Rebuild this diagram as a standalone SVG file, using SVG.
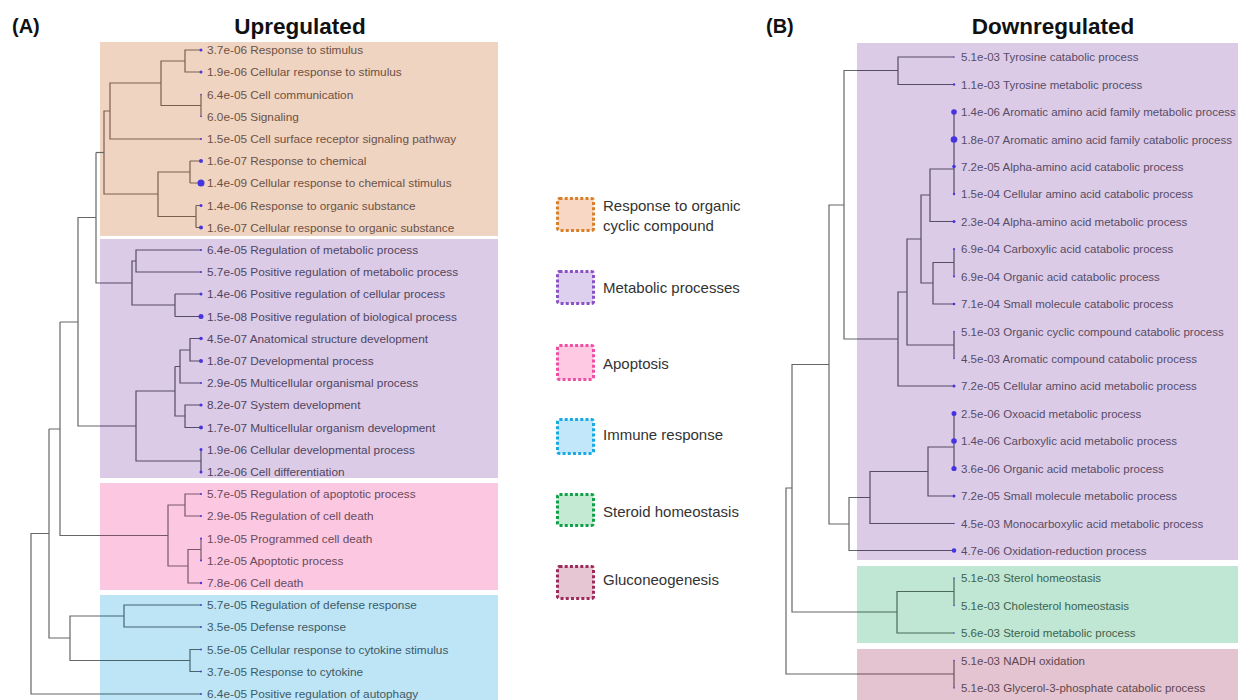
<svg xmlns="http://www.w3.org/2000/svg" width="1241" height="700" viewBox="0 0 1241 700">
<style>
text{font-family:"Liberation Sans",Arial,sans-serif}
.ttl{font-size:22.5px;font-weight:bold;fill:#111;text-anchor:middle}
.pn{font-size:20px;font-weight:bold;fill:#111}
.lL{font-size:11.8px}
.lR{font-size:11.5px}
.lg{font-size:15px;fill:#333}
.o{fill:#6b5244}.p{fill:#4f4562}.k{fill:#6a4a5c}.b{fill:#3e5a66}.g{fill:#3e6150}.m{fill:#5e4852}.q{fill:#574c68}
.cn path{fill:none;stroke-width:1.2}
.gx{stroke:#666}.go{stroke:#7a5e50}.gp{stroke:#574c6a}.gk{stroke:#7a566a}.gb{stroke:#46656f}.gg{stroke:#4a6a5a}.gm{stroke:#6a505c}
.d{fill:#4634e0}
.lgb{stroke-width:3;stroke-dasharray:3 2.2}
</style>

<!-- background boxes -->
<rect x="100" y="42" width="398" height="194" fill="#f0d4c2"/>
<rect x="100" y="239" width="398" height="239" fill="#dccbe6"/>
<rect x="100" y="483" width="398" height="107" fill="#fcc8e1"/>
<rect x="100" y="595" width="398" height="105" fill="#bde5f6"/>
<rect x="857" y="43" width="381" height="517" fill="#dccbe6"/>
<rect x="857" y="566" width="381" height="77" fill="#bfe7d3"/>
<rect x="857" y="649" width="381" height="51" fill="#e4c4d1"/>

<!-- titles -->
<text class="pn" x="12" y="33">(A)</text>
<text class="ttl" x="300" y="34">Upregulated</text>
<text class="pn" x="766" y="33">(B)</text>
<text class="ttl" x="1053" y="34">Downregulated</text>

<!-- connectors -->
<g id="connectors" class="cn">
  <!-- left orange -->
  <path class="go" d="M201 50H185V72H201M201 94.5V116.5M185 61H161V105.5H201M161 83H110V139H201M190 161V183M201 161H190M201 183H190M196 205.5V227.5M201 205.5H196M201 227.5H196M190 172H158V216.5H196M158 194H104V111H110"/>
  <path class="gx" d="M104 152.5H96"/>
  <!-- left purple -->
  <path class="gp" d="M201 250H136V272H201M136 261H132V305H175M175 294V316.5M201 294H175M201 316.5H175M132 283H100M201 338.5H190V361H201M190 350H180V383H201M180 366.5H175M201 405H185V427.5H201M185 416H175V366.5M175 391H136V461H201M201 449.5V472M136 426H100"/>
  <path class="gx" d="M100 283H96V152.5M100 426H78V217.5H96M78 322H60"/>
  <!-- left pink -->
  <path class="gk" d="M201 494H185V516H201M185 505H168V566H188M201 538.5V560.5M201 549.5H188V583H201M168 535.5H100"/>
  <path class="gx" d="M100 535.5H60V322M60 429H49"/>
  <!-- left blue -->
  <path class="gb" d="M201 605H124V627H201M124 616H100M201 649.5H190V671.5H201M190 660.5H100M201 694H100"/>
  <path class="gx" d="M100 616H70V660.5H100M70 638H49V429M49 533.5H31V694H100"/>
  <!-- right purple -->
  <path class="gp" d="M954 57H898V84.5H954M898 70.5H857M954 112V194M954 169H930V221.5H954M930 195H921V283H933M954 249V276.5M954 262.5H933V304H954M921 239H907V345H954M954 331.5V358.5M907 292H898V386H954M898 339H857M954 413.5V468.5M954 447H928V496H954M928 471.5H870V523.5H954M870 497.5H857M954 550.5H857"/>
  <path class="gx" d="M857 70.5H844V339H857M844 205H829V524H849V497.5H857M849 524V550.5H857M829 364.5H792V612H857M792 488H786V674H857"/>
  <!-- right green -->
  <path class="gg" d="M954 578V605.5M954 591.5H897V633H954M897 612H857"/>
  <!-- right maroon -->
  <path class="gm" d="M954 660.5V688M954 674H857"/>
</g>

<!-- left leaves -->
<g id="L01"><circle class="d" cx="201" cy="50" r="1.5"/><text class="lL o" x="207" y="54">3.7e-06 Response to stimulus</text></g>
<g id="L02"><circle class="d" cx="201" cy="72" r="1.5"/><text class="lL o" x="207" y="76">1.9e-06 Cellular response to stimulus</text></g>
<g id="L03"><circle class="d" cx="201" cy="94.5" r="0.8"/><text class="lL o" x="207" y="98.5">6.4e-05 Cell communication</text></g>
<g id="L04"><circle class="d" cx="201" cy="116.5" r="0.8"/><text class="lL o" x="207" y="120.5">6.0e-05 Signaling</text></g>
<g id="L05"><circle class="d" cx="201" cy="139" r="1"/><text class="lL o" x="207" y="143">1.5e-05 Cell surface receptor signaling pathway</text></g>
<g id="L06"><circle class="d" cx="201" cy="161" r="2"/><text class="lL o" x="207" y="165">1.6e-07 Response to chemical</text></g>
<g id="L07"><circle class="d" cx="201" cy="183" r="3.5"/><text class="lL o" x="207" y="187">1.4e-09 Cellular response to chemical stimulus</text></g>
<g id="L08"><circle class="d" cx="201" cy="205.5" r="1.5"/><text class="lL o" x="207" y="209.5">1.4e-06 Response to organic substance</text></g>
<g id="L09"><circle class="d" cx="201" cy="227.5" r="2"/><text class="lL o" x="207" y="231.5">1.6e-07 Cellular response to organic substance</text></g>
<g id="L10"><circle class="d" cx="201" cy="250" r="1"/><text class="lL p" x="207" y="254">6.4e-05 Regulation of metabolic process</text></g>
<g id="L11"><circle class="d" cx="201" cy="272" r="1"/><text class="lL p" x="207" y="276">5.7e-05 Positive regulation of metabolic process</text></g>
<g id="L12"><circle class="d" cx="201" cy="294" r="1.5"/><text class="lL p" x="207" y="298">1.4e-06 Positive regulation of cellular process</text></g>
<g id="L13"><circle class="d" cx="201" cy="316.5" r="2.5"/><text class="lL p" x="207" y="320.5">1.5e-08 Positive regulation of biological process</text></g>
<g id="L14"><circle class="d" cx="201" cy="338.5" r="1.8"/><text class="lL p" x="207" y="342.5">4.5e-07 Anatomical structure development</text></g>
<g id="L15"><circle class="d" cx="201" cy="361" r="2"/><text class="lL p" x="207" y="365">1.8e-07 Developmental process</text></g>
<g id="L16"><circle class="d" cx="201" cy="383" r="1"/><text class="lL p" x="207" y="387">2.9e-05 Multicellular organismal process</text></g>
<g id="L17"><circle class="d" cx="201" cy="405" r="1.6"/><text class="lL p" x="207" y="409">8.2e-07 System development</text></g>
<g id="L18"><circle class="d" cx="201" cy="427.5" r="2"/><text class="lL p" x="207" y="431.5">1.7e-07 Multicellular organism development</text></g>
<g id="L19"><circle class="d" cx="201" cy="449.5" r="1.5"/><text class="lL p" x="207" y="453.5">1.9e-06 Cellular developmental process</text></g>
<g id="L20"><circle class="d" cx="201" cy="472" r="1.5"/><text class="lL p" x="207" y="476">1.2e-06 Cell differentiation</text></g>
<g id="L21"><circle class="d" cx="201" cy="494" r="1"/><text class="lL k" x="207" y="498">5.7e-05 Regulation of apoptotic process</text></g>
<g id="L22"><circle class="d" cx="201" cy="516" r="1"/><text class="lL k" x="207" y="520">2.9e-05 Regulation of cell death</text></g>
<g id="L23"><circle class="d" cx="201" cy="538.5" r="1"/><text class="lL k" x="207" y="542.5">1.9e-05 Programmed cell death</text></g>
<g id="L24"><circle class="d" cx="201" cy="560.5" r="1"/><text class="lL k" x="207" y="564.5">1.2e-05 Apoptotic process</text></g>
<g id="L25"><circle class="d" cx="201" cy="583" r="1.2"/><text class="lL k" x="207" y="587">7.8e-06 Cell death</text></g>
<g id="L26"><circle class="d" cx="201" cy="605" r="0.9"/><text class="lL b" x="207" y="609">5.7e-05 Regulation of defense response</text></g>
<g id="L27"><circle class="d" cx="201" cy="627" r="0.9"/><text class="lL b" x="207" y="631">3.5e-05 Defense response</text></g>
<g id="L28"><circle class="d" cx="201" cy="649.5" r="0.9"/><text class="lL b" x="207" y="653.5">5.5e-05 Cellular response to cytokine stimulus</text></g>
<g id="L29"><circle class="d" cx="201" cy="671.5" r="0.9"/><text class="lL b" x="207" y="675.5">3.7e-05 Response to cytokine</text></g>
<g id="L30"><circle class="d" cx="201" cy="694" r="0.9"/><text class="lL b" x="207" y="698">6.4e-05 Positive regulation of autophagy</text></g>

<!-- right leaves -->
<g id="R01"><circle class="d" cx="954" cy="57" r="0.7"/><text class="lR q" x="961" y="61">5.1e-03 Tyrosine catabolic process</text></g>
<g id="R02"><circle class="d" cx="954" cy="84.5" r="1.2"/><text class="lR q" x="961" y="88.5">1.1e-03 Tyrosine metabolic process</text></g>
<g id="R03"><circle class="d" cx="954" cy="112" r="2.8"/><text class="lR q" x="961" y="116">1.4e-06 Aromatic amino acid family metabolic process</text></g>
<g id="R04"><circle class="d" cx="954" cy="139.5" r="3.3"/><text class="lR q" x="961" y="143.5">1.8e-07 Aromatic amino acid family catabolic process</text></g>
<g id="R05"><circle class="d" cx="954" cy="166.5" r="1.8"/><text class="lR q" x="961" y="170.5">7.2e-05 Alpha-amino acid catabolic process</text></g>
<g id="R06"><circle class="d" cx="954" cy="194" r="1.2"/><text class="lR q" x="961" y="198">1.5e-04 Cellular amino acid catabolic process</text></g>
<g id="R07"><circle class="d" cx="954" cy="221.5" r="1.5"/><text class="lR q" x="961" y="225.5">2.3e-04 Alpha-amino acid metabolic process</text></g>
<g id="R08"><circle class="d" cx="954" cy="249" r="1"/><text class="lR q" x="961" y="253">6.9e-04 Carboxylic acid catabolic process</text></g>
<g id="R09"><circle class="d" cx="954" cy="276.5" r="1"/><text class="lR q" x="961" y="280.5">6.9e-04 Organic acid catabolic process</text></g>
<g id="R10"><circle class="d" cx="954" cy="304" r="1.3"/><text class="lR q" x="961" y="308">7.1e-04 Small molecule catabolic process</text></g>
<g id="R11"><circle class="d" cx="954" cy="331.5" r="0.7"/><text class="lR q" x="961" y="335.5">5.1e-03 Organic cyclic compound catabolic process</text></g>
<g id="R12"><circle class="d" cx="954" cy="358.5" r="0.7"/><text class="lR q" x="961" y="362.5">4.5e-03 Aromatic compound catabolic process</text></g>
<g id="R13"><circle class="d" cx="954" cy="386" r="1.5"/><text class="lR q" x="961" y="390">7.2e-05 Cellular amino acid metabolic process</text></g>
<g id="R14"><circle class="d" cx="954" cy="413.5" r="2.5"/><text class="lR q" x="961" y="417.5">2.5e-06 Oxoacid metabolic process</text></g>
<g id="R15"><circle class="d" cx="954" cy="441" r="2.8"/><text class="lR q" x="961" y="445">1.4e-06 Carboxylic acid metabolic process</text></g>
<g id="R16"><circle class="d" cx="954" cy="468.5" r="2.6"/><text class="lR q" x="961" y="472.5">3.6e-06 Organic acid metabolic process</text></g>
<g id="R17"><circle class="d" cx="954" cy="496" r="1.5"/><text class="lR q" x="961" y="500">7.2e-05 Small molecule metabolic process</text></g>
<g id="R18"><circle class="d" cx="954" cy="523.5" r="0.7"/><text class="lR q" x="961" y="527.5">4.5e-03 Monocarboxylic acid metabolic process</text></g>
<g id="R19"><circle class="d" cx="954" cy="550.5" r="2.3"/><text class="lR q" x="961" y="554.5">4.7e-06 Oxidation-reduction process</text></g>
<g id="R20"><circle class="d" cx="954" cy="578" r="0.7"/><text class="lR g" x="961" y="582">5.1e-03 Sterol homeostasis</text></g>
<g id="R21"><circle class="d" cx="954" cy="605.5" r="0.7"/><text class="lR g" x="961" y="609.5">5.1e-03 Cholesterol homeostasis</text></g>
<g id="R22"><circle class="d" cx="954" cy="633" r="0.7"/><text class="lR g" x="961" y="637">5.6e-03 Steroid metabolic process</text></g>
<g id="R23"><circle class="d" cx="954" cy="660.5" r="0.7"/><text class="lR m" x="961" y="664.5">5.1e-03 NADH oxidation</text></g>
<g id="R24"><circle class="d" cx="954" cy="688" r="0.7"/><text class="lR m" x="961" y="692">5.1e-03 Glycerol-3-phosphate catabolic process</text></g>

<!-- legend -->
<g id="leg-organic"><rect class="lgb" x="557.5" y="198.5" width="36" height="32" rx="2" fill="#f8d8c4" stroke="#d97f2a"/><text class="lg" x="603" y="211">Response to organic</text><text class="lg" x="603" y="231">cyclic compound</text></g>
<g id="leg-metabolic"><rect class="lgb" x="557.5" y="271.5" width="36" height="32" rx="2" fill="#ddcfee" stroke="#8a52c4"/><text class="lg" x="603" y="293">Metabolic processes</text></g>
<g id="leg-apoptosis"><rect class="lgb" x="557.5" y="345.5" width="36" height="34" rx="2" fill="#fdc9e3" stroke="#ef4fa3"/><text class="lg" x="603" y="369">Apoptosis</text></g>
<g id="leg-immune"><rect class="lgb" x="557.5" y="419.5" width="36" height="34" rx="2" fill="#c3e7fa" stroke="#19a9e3"/><text class="lg" x="603" y="440">Immune response</text></g>
<g id="leg-steroid"><rect class="lgb" x="557.5" y="494.5" width="36" height="31" rx="2" fill="#c4ead4" stroke="#10a048"/><text class="lg" x="603" y="517">Steroid homeostasis</text></g>
<g id="leg-gluco"><rect class="lgb" x="557.5" y="566.5" width="36" height="32" rx="2" fill="#e6c6d3" stroke="#9c2a5a"/><text class="lg" x="603" y="585">Gluconeogenesis</text></g>
</svg>
